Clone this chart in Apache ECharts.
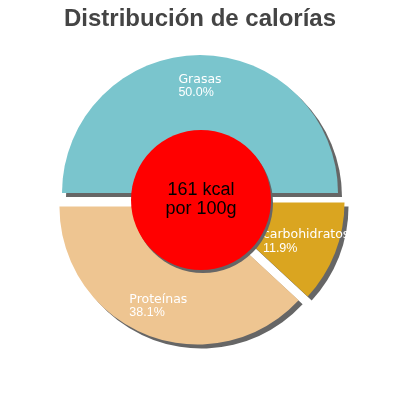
<!DOCTYPE html>
<html lang="es">
<head>
    <meta charset="UTF-8">
    <title>Distribución de calorías</title>
    <script src="https://cdn.jsdelivr.net/npm/echarts@6/dist/echarts.min.js"></script>
    <style>
        html, body { margin: 0; padding: 0; background: #fff; }
    </style>
</head>
<body>
    <div id="main" style="width: 400px; height: 400px"></div>
    <script>
        // datos
        var categorias = ['Grasas', 'carbohidratos', 'Proteínas'];
        var porcentajes = [50.0, 11.9, 38.1];
        var colores = ['#7AC5CD', '#DAA520', '#EEC591'];
        var energia = ['161 kcal', 'por 100g'];

        var mychart = echarts.init(document.getElementById('main'));

        function crearDatos(conColor) {
            var datos = [];
            for (var i = 0; i < categorias.length; i++) {
                datos.push({
                    name: categorias[i],
                    value: porcentajes[i],
                    selected: true,
                    itemStyle: { color: conColor ? colores[i] : 'rgba(0,0,0,0)' }
                });
            }
            return datos;
        }

        var option = {
            animation: false,
            title: {
                text: 'Distribución de calorías',
                left: 'center',
                top: 2,
                textStyle: {
                    fontFamily: 'Liberation Sans',
                    fontWeight: 'bold',
                    fontSize: 24,
                    color: '#444444'
                }
            },
            series: [{
                // porciones
                type: 'pie',
                z: 1,
                center: [200, 200],
                radius: [0, 138],
                startAngle: 180,
                clockwise: true,
                selectedMode: 'multiple',
                selectedOffset: 7,
                silent: true,
                itemStyle: {
                    shadowBlur: 0,
                    shadowOffsetX: 4,
                    shadowOffsetY: 4,
                    shadowColor: '#666666'
                },
                label: { show: false },
                labelLine: { show: false },
                data: crearDatos(true)
            }, {
                // solo etiquetas, en el anillo exterior
                type: 'pie',
                z: 2,
                center: [200, 200],
                radius: [70, 138],
                startAngle: 180,
                clockwise: true,
                selectedMode: 'multiple',
                selectedOffset: 7,
                silent: true,
                label: {
                    position: 'inside',
                    formatter: function (p) {
                        return '{n|' + p.name + '}\n{p|' + p.percent.toFixed(1) + '%}';
                    },
                    rich: {
                        n: {
                            align: 'left',
                            color: '#ffffff',
                            fontFamily: 'DejaVu Sans',
                            fontSize: 12.5,
                            lineHeight: 13
                        },
                        p: {
                            align: 'left',
                            color: '#ffffff',
                            fontFamily: 'Liberation Sans',
                            fontSize: 12.5,
                            lineHeight: 13
                        }
                    }
                },
                labelLine: { show: false },
                data: crearDatos(false)
            }, {
                // círculo central
                type: 'pie',
                z: 10,
                center: [201, 200],
                radius: [0, 70],
                silent: true,
                itemStyle: {
                    color: '#FF0000',
                    shadowBlur: 0,
                    shadowOffsetX: 2,
                    shadowOffsetY: 3,
                    shadowColor: '#666666'
                },
                label: {
                    position: 'center',
                    color: '#000000',
                    fontFamily: 'Liberation Sans',
                    fontSize: 18,
                    lineHeight: 19,
                    formatter: energia.join('\n')
                },
                labelLine: { show: false },
                data: [{ name: 'energia', value: 1 }]
            }]
        };

        mychart.setOption(option);
    </script>
</body>
</html>
